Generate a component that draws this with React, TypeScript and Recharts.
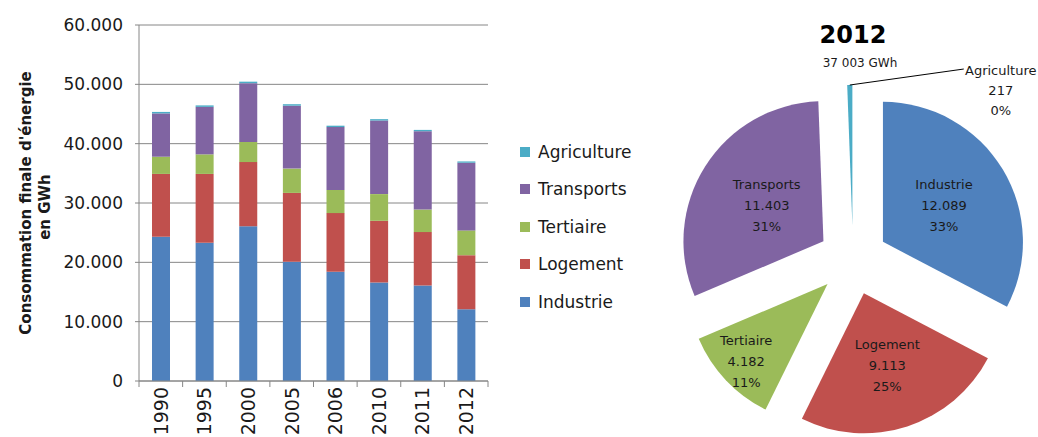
import React from 'react';
import { BarChart, Bar, XAxis, YAxis, CartesianGrid, Legend, PieChart, Pie } from 'recharts';

// ---------- data ----------
const years = ['1990', '1995', '2000', '2005', '2006', '2010', '2011', '2012'];
const industrie = [24300, 23300, 26100, 20100, 18400, 16600, 16100, 12089];
const logement = [10600, 11600, 10800, 11600, 9900, 10400, 9000, 9113];
const tertiaire = [2900, 3300, 3400, 4100, 3900, 4500, 3800, 4182];
const transports = [7300, 8000, 9900, 10600, 10600, 12400, 13200, 11403];
const agriculture = [250, 250, 250, 250, 230, 230, 220, 217];

const yTicks = [0, 10000, 20000, 30000, 40000, 50000, 60000];

const seriesNames = ['Industrie', 'Logement', 'Tertiaire', 'Transports', 'Agriculture'];
const seriesColors = ['#4F81BD', '#C0504D', '#9BBB59', '#8064A2', '#4BACC6'];

const pieTitle = '2012';
const pieSubtitle = '37 003 GWh';
const pieNames = ['Industrie', 'Logement', 'Tertiaire', 'Transports', 'Agriculture'];
const pieValues = [12089, 9113, 4182, 11403, 217];
const piePctLabels = ['33%', '25%', '11%', '31%', '0%'];
const pieLabelRadius = [0.51, 0.54, 0.8, 0.48, 1];

// ---------- styles ----------
const FONT = '"DejaVu Sans", "Open Sans", sans-serif';
const AXIS = '#868686';
const TEXT = '#1a1a1a';

const W_BAR = 640;
const H = 437;
const M_TOP = 25;
const M_RIGHT = 152;
const Y_W = 139;
const X_H = 56;
const PLOT_W = W_BAR - M_RIGHT - Y_W;

const barData = years.map((y, i) => ({
  year: y,
  Industrie: industrie[i],
  Logement: logement[i],
  Tertiaire: tertiaire[i],
  Transports: transports[i],
  Agriculture: agriculture[i],
}));

const fmtThousands = (v: number) => {
  if (v < 1000) return String(v);
  const k = Math.floor(v / 1000);
  const r = String(v % 1000).padStart(3, '0');
  return `${k}.${r}`;
};

const XTick = (props: any) => {
  const { x, y, payload, index } = props;
  const band = PLOT_W / years.length;
  return (
    <g transform={`translate(${x},${y})`}>
      <line x1={-band / 2} y1={0} x2={-band / 2} y2={6} stroke={AXIS} />
      {index === years.length - 1 && <line x1={band / 2} y1={0} x2={band / 2} y2={6} stroke={AXIS} />}
      <text transform="rotate(-90)" x={-6} y={0} dy="0.36em" textAnchor="end" fontSize={19} fill={TEXT} fontFamily={FONT}>
        {payload.value}
      </text>
    </g>
  );
};

const YLabel = () => (
  <g fontFamily={FONT} fontWeight="bold" fontSize={15} fill={TEXT}>
    <text transform="rotate(-90, 26, 203)" x={26} y={203} dy="0.36em" textAnchor="middle">
      Consommation finale d'énergie
    </text>
    <text transform="rotate(-90, 45, 207)" x={45} y={207} dy="0.36em" textAnchor="middle">
      en GWh
    </text>
  </g>
);

const LegendContent = () => (
  <div style={{ fontFamily: FONT, color: TEXT }}>
    {[...seriesNames].reverse().map((n) => {
      const c = seriesColors[seriesNames.indexOf(n)];
      return (
        <div key={n} style={{ display: 'flex', alignItems: 'center', height: 37.5 }}>
          <span style={{ display: 'inline-block', width: 10, height: 10, background: c }} />
          <span style={{ marginLeft: 8, fontSize: 17, lineHeight: '20px' }}>{n}</span>
        </div>
      );
    })}
  </div>
);

// ---------- pie geometry ----------
const W_PIE = 398;
const PIE_CX = 213;
const PIE_CY = 260;
const PIE_R = 140;
const EXPLODE = 35;
const RAD = Math.PI / 180;

const pieTotal = pieValues.reduce((a, b) => a + b, 0);
let cumAcc = 0;
const pieSlices = pieValues.map((v, i) => {
  const start = cumAcc / pieTotal;
  cumAcc += v;
  const end = cumAcc / pieTotal;
  const midCw = ((start + end) / 2) * 360; // clockwise from 12 o'clock
  return {
    name: pieNames[i],
    value: v,
    color: seriesColors[seriesNames.indexOf(pieNames[i])],
    startAngle: 90 - start * 360,
    endAngle: 90 - end * 360,
    cx: PIE_CX + EXPLODE * Math.sin(midCw * RAD),
    cy: PIE_CY - EXPLODE * Math.cos(midCw * RAD),
  };
});

const makeLabel = (i: number) => (props: any) => {
  const s = pieSlices[i];
  const cx = props.cx ?? s.cx;
  const cy = props.cy ?? s.cy;
  const mid = props.midAngle ?? (s.startAngle + s.endAngle) / 2;
  const r = props.outerRadius ?? PIE_R;
  const ux = Math.cos(-mid * RAD);
  const uy = Math.sin(-mid * RAD);
  const lines = [pieNames[i], fmtThousands(pieValues[i]), piePctLabels[i]];
  if (pieNames[i] === 'Agriculture') {
    const ox = cx + r * ux;
    const oy = cy + r * uy;
    const ex = ox + 114;
    const ey = oy - 16;
    const tx = ex + 37;
    return (
      <g fontFamily={FONT} fontSize={13} fill={TEXT}>
        <polyline points={`${ox},${oy} ${ex},${ey}`} stroke="#000" fill="none" strokeWidth={1} />
        {lines.map((t, k) => (
          <text key={k} x={tx} y={oy - 15 + k * 20} dy="0.36em" textAnchor="middle">
            {t}
          </text>
        ))}
      </g>
    );
  }
  const lx = cx + r * pieLabelRadius[i] * ux;
  const ly = cy + r * pieLabelRadius[i] * uy;
  return (
    <g fontFamily={FONT} fontSize={13} fill={TEXT}>
      {lines.map((t, k) => (
        <text key={k} x={lx} y={ly + (k - 1) * 21} dy="0.36em" textAnchor="middle">
          {t}
        </text>
      ))}
    </g>
  );
};

export default function App() {
  return (
    <div style={{ position: 'absolute', left: 0, top: 0, width: 1038, height: H, background: '#fff' }}>
      <div style={{ position: 'absolute', left: 0, top: 0 }}>
        <BarChart
          width={W_BAR}
          height={H}
          data={barData}
          margin={{ top: M_TOP, right: M_RIGHT, left: 0, bottom: 0 }}
          barSize={18}
        >
          <CartesianGrid vertical={false} stroke={AXIS} strokeWidth={1} />
          <XAxis
            dataKey="year"
            height={X_H}
            interval={0}
            tickSize={0}
            tickMargin={0}
            tickLine={false}
            axisLine={{ stroke: AXIS }}
            tick={<XTick />}
          />
          <YAxis
            width={Y_W}
            domain={[0, 60000]}
            ticks={yTicks}
            interval={0}
            tickSize={4}
            tickMargin={12}
            axisLine={{ stroke: AXIS }}
            tickLine={{ stroke: AXIS }}
            tickFormatter={fmtThousands}
            tick={{ fontSize: 17, fill: TEXT, fontFamily: FONT }}
            label={{ content: () => <YLabel /> }}
          />
          <Legend
            layout="vertical"
            align="center"
            verticalAlign="middle"
            content={() => <LegendContent />}
            wrapperStyle={{ left: 520, top: 133, width: 130, margin: 0 }}
          />
          {seriesNames.map((n, i) => (
            <Bar key={n} dataKey={n} stackId="a" fill={seriesColors[i]} isAnimationActive={false} />
          ))}
        </BarChart>
      </div>
      <div style={{ position: 'absolute', left: 640, top: 0, width: W_PIE, height: H }}>
        <PieChart width={W_PIE} height={H} margin={{ top: 0, right: 0, bottom: 0, left: 0 }}>
          {pieSlices.map((s, i) => (
            <Pie
              key={s.name}
              data={[{ name: s.name, value: s.value }]}
              dataKey="value"
              nameKey="name"
              cx={s.cx}
              cy={s.cy}
              innerRadius={0}
              outerRadius={PIE_R}
              startAngle={s.startAngle}
              endAngle={s.endAngle}
              fill={s.color}
              stroke="none"
              label={makeLabel(i)}
              labelLine={false}
              isAnimationActive={false}
            />
          ))}
        </PieChart>
        <svg
          width={W_PIE}
          height={90}
          style={{ position: 'absolute', left: 0, top: 0, pointerEvents: 'none' }}
        >
          <text x={PIE_CX} y={43} textAnchor="middle" fontFamily={FONT} fontWeight="bold" fontSize={24} fill="#000">
            {pieTitle}
          </text>
          <text x={PIE_CX + 7} y={67} textAnchor="middle" fontFamily={FONT} fontSize={12} fill={TEXT}>
            {pieSubtitle}
          </text>
        </svg>
      </div>
    </div>
  );
}
